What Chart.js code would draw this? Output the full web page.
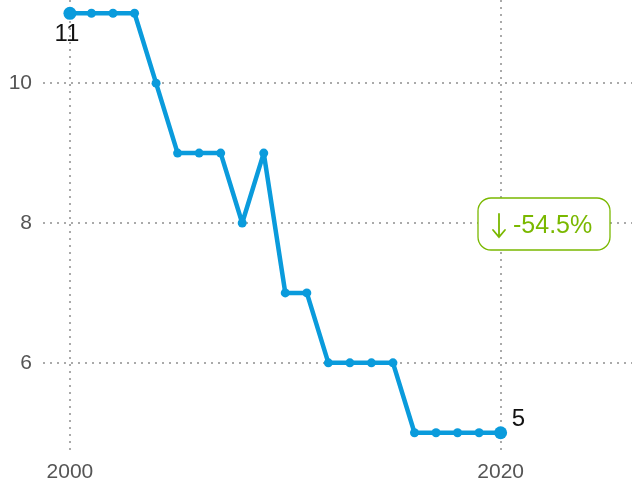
<!DOCTYPE html>
<html>
<head>
<meta charset="utf-8">
<script src="https://cdn.jsdelivr.net/npm/chart.js@4"></script>
<style>
  html, body { margin: 0; padding: 0; background: #fff; }
  #wrap { width: 632px; height: 485px; }
</style>
</head>
<body>
<div id="wrap"><canvas id="chart"></canvas></div>
<script>
const years = [2000, 2001, 2002, 2003, 2004, 2005, 2006, 2007, 2008, 2009, 2010,
  2011, 2012, 2013, 2014, 2015, 2016, 2017, 2018, 2019, 2020];
const values = [11, 11, 11, 11, 10, 9, 9, 9, 8, 9, 7, 7, 6, 6, 6, 6, 5, 5, 5, 5, 5];
const xTicks = [2000, 2020];
const yTicks = [6, 8, 10];
const changeLabel = "-54.5%";

const blue = "#0a9bdc";
const green = "#7ab800";
const font = "'Liberation Sans', Arial, sans-serif";

const endLabels = {
  id: "endLabels",
  afterDatasetsDraw(chart) {
    const ctx = chart.ctx;
    const x = chart.scales.x, y = chart.scales.y;
    const last = values.length - 1;
    ctx.save();
    ctx.fillStyle = "#111";
    ctx.font = "24px " + font;
    ctx.textAlign = "center";
    ctx.textBaseline = "top";
    ctx.fillText(String(values[0]), x.getPixelForValue(years[0]) - 3, y.getPixelForValue(values[0]) + 9);
    ctx.textAlign = "left";
    ctx.textBaseline = "bottom";
    ctx.fillText(String(values[last]), x.getPixelForValue(years[last]) + 11, y.getPixelForValue(values[last]) - 1);

    // change badge
    const cy = y.getPixelForValue(8) + 1;
    const w = 132, h = 52, left = chart.chartArea.right - 154;
    ctx.beginPath();
    ctx.roundRect(left, cy - h / 2, w, h, 13);
    ctx.fillStyle = "#fff";
    ctx.fill();
    ctx.strokeStyle = green;
    ctx.lineWidth = 1.3;
    ctx.stroke();

    // down arrow
    const ax = left + 21;
    ctx.lineWidth = 1.8;
    ctx.lineCap = "round";
    ctx.beginPath();
    ctx.moveTo(ax, cy - 10);
    ctx.lineTo(ax, cy + 13);
    ctx.moveTo(ax - 6, cy + 6);
    ctx.lineTo(ax, cy + 13);
    ctx.lineTo(ax + 6, cy + 6);
    ctx.stroke();

    ctx.fillStyle = green;
    ctx.textBaseline = "alphabetic";
    ctx.textAlign = "left";
    ctx.font = "25px " + font;
    ctx.fillText(changeLabel, left + 35, cy + 9);
    ctx.restore();
  }
};

const last = values.length - 1;
new Chart(document.getElementById("chart"), {
  type: "line",
  data: {
    datasets: [{
      data: years.map((yr, i) => ({ x: yr, y: values[i] })),
      borderColor: blue,
      backgroundColor: blue,
      borderWidth: 4.5,
      borderJoinStyle: "round",
      pointRadius: values.map((v, i) => (i === 0 || i === last) ? 6.5 : 4.5),
      pointBorderWidth: 0,
      tension: 0,
      clip: false
    }]
  },
  options: {
    responsive: true,
    maintainAspectRatio: false,
    animation: false,
    layout: { padding: 0, autoPadding: false },
    plugins: { legend: { display: false }, tooltip: { enabled: false } },
    scales: {
      x: {
        type: "linear",
        min: 1998.75,
        max: 2026.1,
        afterBuildTicks: (s) => { s.ticks = xTicks.map(v => ({ value: v })); },
        afterFit: (s) => { s.height = 32; s.paddingLeft = 0; s.paddingRight = 0; },
        border: { display: false, dash: [2, 5] },
        grid: { color: "#aaa", lineWidth: 2, drawTicks: false },
        ticks: {
          color: "#555",
          font: { size: 21, family: font },
          padding: 7,
          maxRotation: 0,
          callback: (v) => String(v)
        }
      },
      y: {
        min: 4.71,
        max: 11.19,
        afterBuildTicks: (s) => { s.ticks = yTicks.map(v => ({ value: v })); },
        afterFit: (s) => { s.width = 43; s.paddingTop = 0; s.paddingBottom = 0; },
        border: { display: false, dash: [2, 5] },
        grid: { color: "#aaa", lineWidth: 2, drawTicks: false },
        ticks: {
          color: "#555",
          font: { size: 21, family: font },
          padding: 11,
          callback: (v) => String(v)
        }
      }
    }
  },
  plugins: [endLabels]
});
</script>
</body>
</html>
